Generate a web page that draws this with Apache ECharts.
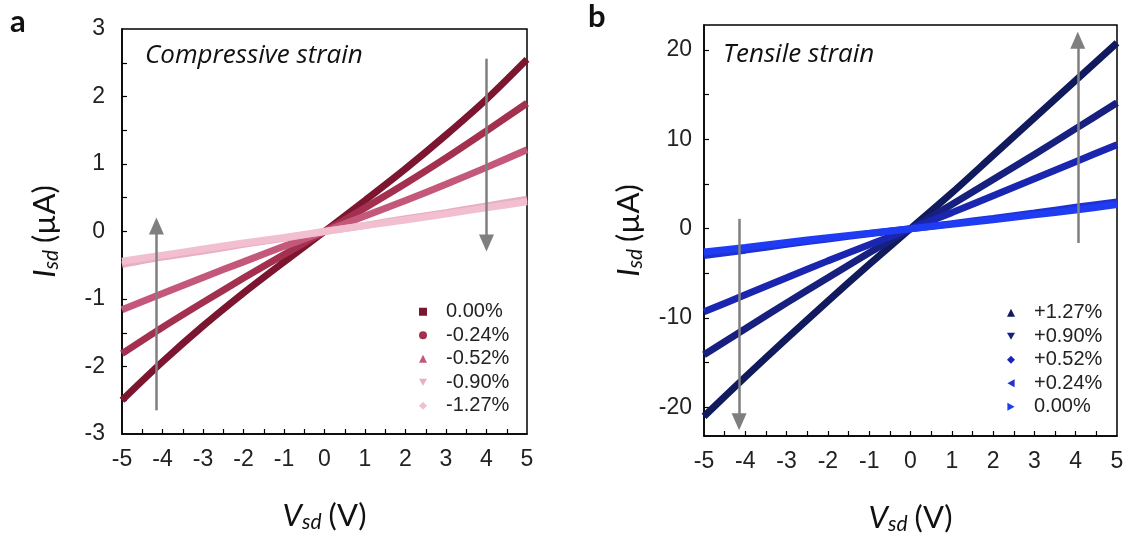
<!DOCTYPE html>
<html>
<head>
<meta charset="utf-8">
<script src="https://cdn.jsdelivr.net/npm/echarts@6/dist/echarts.min.js"></script>
<style>
html,body{margin:0;padding:0;background:#fff;}
#chart{width:1130px;height:540px;}
</style>
</head>
<body>
<div id="chart"></div>
<script>
// ---- data ----
var voltages = [-5, -4, -3, -2, -1, 0, 1, 2, 3, 4, 5];
var xTickLabels = [-5, -4, -3, -2, -1, 0, 1, 2, 3, 4, 5];
var yTickLabelsA = [-3, -2, -1, 0, 1, 2, 3];
var yTickLabelsB = [-20, -10, 0, 10, 20];

var namesA = ['0.00%', '-0.24%', '-0.52%', '-0.90%', '-1.27%'];
var compA0 = [-2.50, -1.93, -1.40, -0.91, -0.45, 0, 0.46, 0.93, 1.43, 1.96, 2.55];
var compA1 = [-1.81, -1.42, -1.05, -0.69, -0.34, 0, 0.35, 0.71, 1.09, 1.49, 1.90];
var compA2 = [-1.16, -0.92, -0.68, -0.45, -0.22, 0, 0.23, 0.46, 0.70, 0.95, 1.21];
var compA3 = [-0.49, -0.38, -0.29, -0.19, -0.10, 0, 0.09, 0.19, 0.28, 0.38, 0.48];
var compA4 = [-0.44, -0.35, -0.26, -0.17, -0.09, 0, 0.09, 0.17, 0.26, 0.35, 0.44];

var namesB = ['+1.27%', '+0.90%', '+0.52%', '+0.24%', '0.00% '];
var tensB0 = [-21.0, -16.6, -12.3, -8.1, -4.0, 0, 4.0, 8.2, 12.4, 16.6, 20.8];
var tensB1 = [-14.1, -11.2, -8.3, -5.5, -2.7, 0, 2.7, 5.5, 8.3, 11.2, 14.1];
var tensB2 = [-9.3, -7.4, -5.5, -3.6, -1.8, 0, 1.8, 3.7, 5.6, 7.5, 9.4];
var tensB3 = [-3.0, -2.4, -1.75, -1.15, -0.57, 0, 0.57, 1.15, 1.75, 2.4, 3.0];
var tensB4 = [-2.6, -2.1, -1.55, -1.0, -0.5, 0, 0.5, 1.0, 1.55, 2.1, 2.7];

// arrows: [x, yStart, yEnd]
var arrowsA = [[-4.15, -2.65, 0.08], [4.0, 2.56, -0.17]];
var arrowsB = [[-4.15, 1.1, -21.6], [4.05, -1.6, 21.1]];

// ---- styles ----
var colorsA = ['#7b1530', '#a3304e', '#c4587a', '#e8aec2', '#f2bfd0'];
var colorsB = ['#101a5c', '#17207f', '#1a26b0', '#1d31d6', '#1f3cf2'];
var iconsA = ['rect', 'circle', 'triangle', 'path://M0,0 L10,0 L5,9 Z', 'diamond'];
var iconsB = ['triangle', 'path://M0,0 L10,0 L5,9 Z', 'diamond', 'path://M9,0 L9,10 L0,5 Z', 'path://M0,0 L0,10 L9,5 Z'];
var tickFont = 'Liberation Sans, Arial, sans-serif';
var nameFont = 'Lato, Open Sans, sans-serif';
var titleFont = 'Open Sans, Lato, sans-serif';

function halfTicks(lo, hi, step) {
  var arr = [];
  for (var v = lo; v <= hi + 1e-9; v += step) arr.push(Math.round(v * 100) / 100);
  return arr;
}

function pairs(ys) { return voltages.map(function (v, i) { return [v, ys[i]]; }); }

var nameRich = {
  i: {fontFamily: nameFont, fontStyle: 'italic', fontSize: 31, color: '#111'},
  s: {fontFamily: nameFont, fontStyle: 'italic', fontSize: 21, color: '#111', verticalAlign: 'bottom', padding: [14, 0, 0, 0]},
  n: {fontFamily: nameFont, fontSize: 31, color: '#111', padding: [0, 0, 0, 7]}
};

function xAxisFor(gi) {
  return {
    type: 'value', gridIndex: gi, min: -5, max: 5,
    axisLine: {show: true, onZero: false, lineStyle: {color: '#000', width: 1.5}},
    axisTick: {show: true, inside: true, length: 5, lineStyle: {color: '#000', width: 1.2},
      customValues: halfTicks(-4.5, 4.5, 0.5)},
    axisLabel: {customValues: xTickLabels, color: '#222', fontSize: 23, fontFamily: tickFont, margin: 14},
    splitLine: {show: false},
    name: '{i|V}{s|sd}{n|(V)}', nameLocation: 'middle', nameGap: 64,
    nameTextStyle: {rich: nameRich}
  };
}

function yAxisFor(gi, min, max, labels, ticks, margin, gap) {
  return {
    type: 'value', gridIndex: gi, min: min, max: max,
    axisLine: {show: true, onZero: false, lineStyle: {color: '#000', width: 1.5}},
    axisTick: {show: true, inside: true, length: 5, lineStyle: {color: '#000', width: 1.2}, customValues: ticks},
    axisLabel: {customValues: labels, color: '#222', fontSize: 23, fontFamily: tickFont, margin: margin},
    splitLine: {show: false},
    name: '{i|I}{s|sd}{n|(µA)}', nameLocation: 'middle', nameGap: gap, nameRotate: 90,
    nameTextStyle: {rich: nameRich}
  };
}

function lineSeries(name, ys, color, gi, w) {
  return {
    name: name, type: 'line', xAxisIndex: gi, yAxisIndex: gi,
    data: pairs(ys), smooth: 0.3, symbol: 'none',
    lineStyle: {color: color, width: w},
    itemStyle: {color: color},
    emphasis: {disabled: true}, animation: false
  };
}

function arrowSeries(arrows, gi) {
  return {
    type: 'line', xAxisIndex: gi, yAxisIndex: gi, data: [], z: 10, animation: false,
    markLine: {
      silent: true, animation: false,
      symbol: ['none', 'triangle'], symbolSize: [15, 17],
      lineStyle: {color: '#7f7f7f', width: 2.5, type: 'solid'},
      label: {show: false},
      data: arrows.map(function (a) { return [{coord: [a[0], a[1]]}, {coord: [a[0], a[2]]}]; })
    }
  };
}

var series = [];
var dataA = [compA0, compA1, compA2, compA3, compA4];
var dataB = [tensB0, tensB1, tensB2, tensB3, tensB4];
namesA.forEach(function (n, i) { series.push(lineSeries(n, dataA[i], colorsA[i], 0, 7)); });
namesB.forEach(function (n, i) { series.push(lineSeries(n, dataB[i], colorsB[i], 1, 7)); });
series.push(arrowSeries(arrowsA, 0));
series.push(arrowSeries(arrowsB, 1));

var legendCommon = {
  orient: 'vertical', itemWidth: 8, itemHeight: 8, itemGap: 2,
  selectedMode: false,
  textStyle: {fontFamily: tickFont, fontSize: 20, color: '#222', lineHeight: 21.5, padding: [0, 0, 0, 14]}
};

var option = {
  backgroundColor: '#fff',
  animation: false,
  grid: [
    {left: 122, right: 603, top: 29, bottom: 106, show: true, borderColor: '#000', borderWidth: 1.5, backgroundColor: 'transparent'},
    {left: 704, right: 13, top: 25, bottom: 100, show: true, borderColor: '#000', borderWidth: 1.5, backgroundColor: 'transparent'}
  ],
  xAxis: [xAxisFor(0), xAxisFor(1)],
  yAxis: [
    yAxisFor(0, -3, 3, yTickLabelsA, halfTicks(-2.5, 2.5, 0.5), 17, 60),
    yAxisFor(1, -23.2, 22.8, yTickLabelsB, halfTicks(-20, 20, 5), 12, 58)
  ],
  legend: [
    Object.assign({}, legendCommon, {left: 414, top: 296,
      data: namesA.map(function (n, i) { return {name: n, icon: iconsA[i]}; })}),
    Object.assign({}, legendCommon, {left: 1002, top: 297,
      data: namesB.map(function (n, i) { return {name: n, icon: iconsB[i]}; })})
  ],
  graphic: [
    {type: 'text', left: 10, top: 6, style: {text: 'a', fontFamily: nameFont, fontWeight: 'bold', fontSize: 31, fill: '#111'}},
    {type: 'text', left: 588, top: 1, style: {text: 'b', fontFamily: nameFont, fontWeight: 'bold', fontSize: 31, fill: '#111'}},
    {type: 'text', left: 145, top: 43, style: {text: 'Compressive strain', fontFamily: titleFont, fontStyle: 'italic', fontSize: 26, fill: '#111'}},
    {type: 'text', left: 723, top: 42, style: {text: 'Tensile strain', fontFamily: titleFont, fontStyle: 'italic', fontSize: 26, fill: '#111'}}
  ],
  series: series
};

var chart = echarts.init(document.getElementById('chart'), null, {renderer: 'canvas'});
chart.setOption(option);
</script>
</body>
</html>
